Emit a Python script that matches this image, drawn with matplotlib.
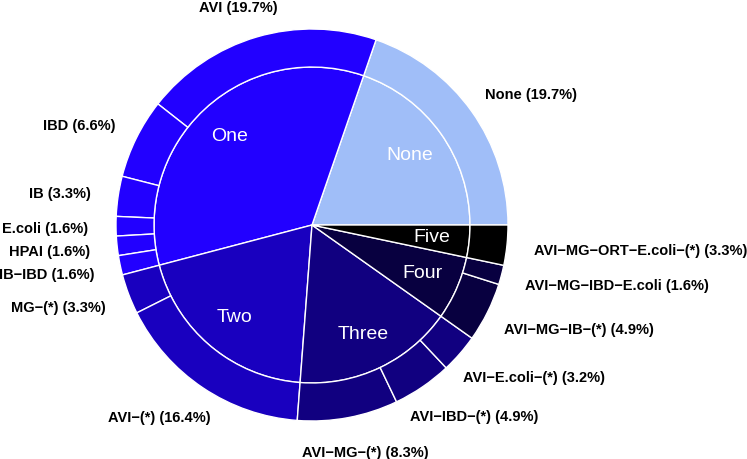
"""Two-ring pie of co-infection groups with labelled sub-combinations."""

import matplotlib

matplotlib.use("Agg")
import matplotlib.pyplot as plt
import numpy as np

# outer ring: combination name, share in percent, parent group index
outer_names = [
    "None",
    "AVI", "IBD", "IB", "E.coli", "HPAI", "IB\u2212IBD",
    "MG\u2212(*)", "AVI\u2212(*)",
    "AVI\u2212MG\u2212(*)", "AVI\u2212IBD\u2212(*)", "AVI\u2212E.coli\u2212(*)",
    "AVI\u2212MG\u2212IB\u2212(*)", "AVI\u2212MG\u2212IBD\u2212E.coli",
    "AVI\u2212MG\u2212ORT\u2212E.coli\u2212(*)",
]
outer_values = [19.7, 19.7, 6.6, 3.3, 1.6, 1.6, 1.6, 3.3, 16.4, 8.3, 4.9, 3.2, 4.9, 1.6, 3.3]
outer_parent = [0, 1, 1, 1, 1, 1, 1, 2, 2, 3, 3, 3, 4, 4, 5]

inner_names = ["None", "One", "Two", "Three", "Four", "Five"]
inner_colors = ["#A0BEF8", "#2200FF", "#1900BF", "#110080", "#080040", "#000000"]

inner_values = [sum(v for v, p in zip(outer_values, outer_parent) if p == i) for i in range(len(inner_names))]
outer_colors = [inner_colors[p] for p in outer_parent]

W, H, DPI = 747, 459, 100
R_PX = 196.0           # outer radius in pixels
CX, CY = 312.0, 225.0  # pie centre in pixels (from top-left)
INNER = 0.806          # inner pie radius relative to outer

fig = plt.figure(figsize=(W / DPI, H / DPI), dpi=DPI)
ax = fig.add_axes([0, 0, 1, 1])

wedge_style = dict(edgecolor="white", linewidth=1.0)
ax.pie(inner_values, radius=INNER, colors=inner_colors, startangle=0,
       counterclock=True, wedgeprops=wedge_style)
ax.pie(outer_values, radius=1.0, colors=outer_colors, startangle=0,
       counterclock=True, wedgeprops=dict(width=1.0 - INNER, **wedge_style))

ax.set_xlim(-CX / R_PX, (W - CX) / R_PX)
ax.set_ylim(-(H - CY) / R_PX, CY / R_PX)
ax.set_aspect("auto")
ax.axis("off")


def mid_angles(values):
    edges = np.concatenate([[0.0], np.cumsum(values)]) / np.sum(values) * 2 * np.pi
    return (edges[:-1] + edges[1:]) / 2


for name, ang in zip(inner_names, mid_angles(inner_values)):
    r = 0.615
    ax.text(r * np.cos(ang), r * np.sin(ang), name, color="white",
            fontsize=14, family="Liberation Sans", ha="center", va="center")

outer_texts = []
outer_angles = mid_angles(outer_values)
for name, val, ang in zip(outer_names, outer_values, outer_angles):
    r = 1.14
    t = ax.text(r * np.cos(ang), r * np.sin(ang), f"{name} ({val:.1f}%)",
                fontsize=10.5, fontweight="bold", family="Liberation Sans",
                ha="center", va="center", color="black")
    outer_texts.append(t)

# push each label outward along its angle (like hjust/vjust in polar coords)
fig.canvas.draw()
renderer = fig.canvas.get_renderer()
for t, ang in zip(outer_texts, outer_angles):
    bb = t.get_window_extent(renderer)
    w = bb.width / R_PX
    h = bb.height / R_PX
    x, y = t.get_position()
    t.set_position((x + np.cos(ang) * w / 2, y + np.sin(ang) * h * 0.4 - 2.5 / R_PX))

fig.savefig("out.png", dpi=DPI)
